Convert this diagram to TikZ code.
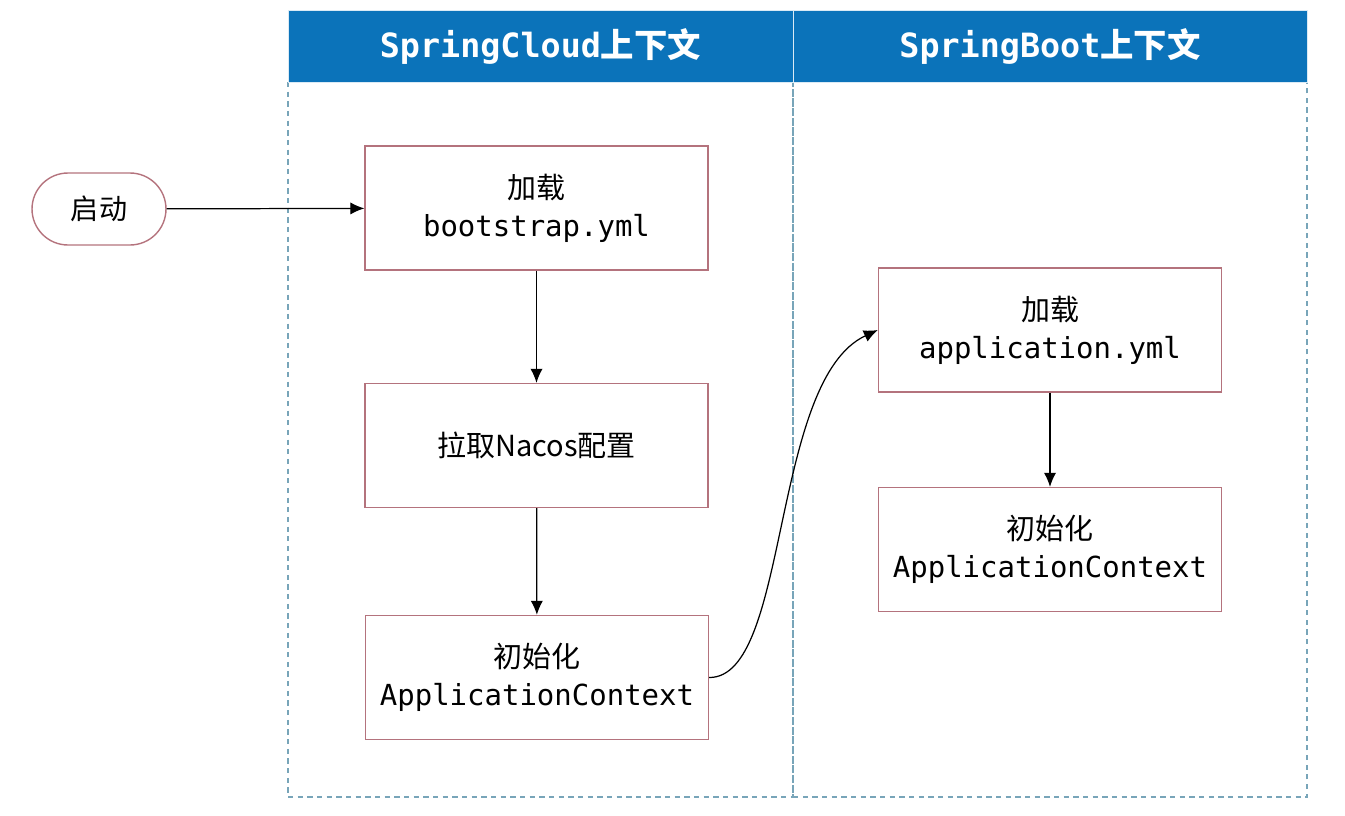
\documentclass[tikz,border=0pt]{standalone}
\usepackage{fontspec}
\setmainfont{Noto Sans CJK SC}
\newfontfamily\cjk{Noto Sans CJK SC}
\newfontfamily\codefont{DejaVu Sans Mono}
\usetikzlibrary{arrows.meta}
\definecolor{headblue}{RGB}{11,115,186}
\definecolor{lanegray}{RGB}{120,165,185}
\definecolor{boxred}{RGB}{180,115,125}
\tikzset{>={Latex[length=8pt,width=7pt]},
  lane/.style={draw=lanegray, line width=0.6pt, dash pattern=on 3pt off 2.5pt},
  header/.style={fill=headblue, draw=white!85!headblue, line width=0.5pt},
  stepbox/.style={draw=boxred, line width=0.8pt, minimum width=6.86cm, minimum height=2.48cm, align=center, font=\fontsize{16.5}{21.5}\selectfont},
  startnode/.style={draw=boxred, line width=0.8pt, rounded corners=0.72cm, minimum width=2.68cm, minimum height=1.44cm, font=\fontsize{16}{20}\selectfont},
  flow/.style={->, line width=0.7pt}}

\begin{document}
\begin{tikzpicture}[x=0.02cm, y=-0.02cm]
    \useasboundingbox (0,0) rectangle (1345,815);
    % lanes
    \draw[lane] (288,82) rectangle (793,797);
    \draw[lane] (793,82) rectangle (1307,797);
    \node[header, minimum width=10.1cm, minimum height=1.44cm] (cloudhead) at (540.5,46) {};
    \node[header, minimum width=10.28cm, minimum height=1.44cm] (boothead) at (1050,46) {};
    \node[text=white, font=\fontsize{19}{21}\selectfont\bfseries] at (cloudhead) {\codefont SpringCloud\cjk 上下文};
    \node[text=white, font=\fontsize{19}{21}\selectfont\bfseries] at (boothead) {\codefont SpringBoot\cjk 上下文};
    % steps
    \node[startnode] (start) at (99,209) {启动};
    \node[stepbox] (loadboot) at (536.5,208) {加载\\{\codefont bootstrap.yml}};
    \node[stepbox] (nacos) at (536.5,445.5) {拉取Nacos配置};
    \node[stepbox] (initcloud) at (537,677.5) {初始化\\{\codefont ApplicationContext}};
    \node[stepbox] (loadapp) at (1050,330) {加载\\{\codefont application.yml}};
    \node[stepbox] (initboot) at (1050,549.5) {初始化\\{\codefont ApplicationContext}};
    % connectors
    \draw[flow] (start) -- (loadboot);
    \draw[flow] (loadboot) -- (nacos);
    \draw[flow] (nacos) -- (initcloud);
    \draw[flow] (initcloud.east) .. controls (790,678) and (770,380) .. (loadapp.west);
    \draw[flow] (loadapp) -- (initboot);
\end{tikzpicture}
\end{document}
